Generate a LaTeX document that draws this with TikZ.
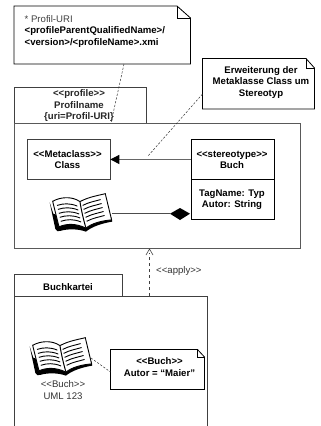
\documentclass[tikz,border=0pt]{standalone}
\usepackage{fontspec}
\setmainfont{Liberation Sans}
\usetikzlibrary{arrows.meta}
\tikzset{
  x=1pt,y=-1pt,
  boxed/.style={draw=black!75,line width=0.8pt,fill=white},
  lbl/.style={align=center,font=\fontsize{9.6}{11.5}\selectfont\bfseries,inner sep=0pt},
  plain/.style={align=center,font=\fontsize{9.6}{11.5}\selectfont,inner sep=0pt,text=black!80},
  notelink/.style={draw=black!80,line width=0.5pt,dash pattern=on 2.2pt off 1.6pt},
  bookpic/.pic={
    \begin{scope}[x=0.333pt,y=-0.345pt]
      % shadow
      \fill[black] (-1,27) -- (16,104) .. controls (19,111) and (24,112) .. (30,110) .. controls (55,103) and (85,104) .. (108,112) .. controls (125,98) and (155,88) .. (187,83) -- (184,70) -- (100,90) -- (10,60) -- cycle;
      % pages
      \filldraw[fill=white,draw=black,line width=0.9pt] (8,24) .. controls (30,12) and (65,8) .. (90,25)
        .. controls (115,12) and (140,8) .. (166,2) -- (185,78)
        .. controls (155,80) and (125,88) .. (108,102)
        .. controls (80,88) and (50,88) .. (27,98) -- cycle;
      \draw[black,line width=1pt] (90,25) .. controls (94,50) and (100,75) .. (108,102);
      \foreach \i in {0,1,2,3,4}{
        \draw[black,line width=0.9pt] (21+\i*2.8,36+\i*11.5) .. controls (40+\i*2.8,30+\i*11.5) and (60+\i*2.8,29+\i*11.5) .. (82+\i*2.8,38+\i*11.5);
        \draw[black,line width=0.9pt] (98+\i*3,36+\i*11.5) .. controls (118+\i*3,26+\i*11.5) and (135+\i*3,24+\i*11.5) .. (152+\i*3,19+\i*11.5);
      }
    \end{scope}
  },
}
\begin{document}
\begin{tikzpicture}
\useasboundingbox (0,0) rectangle (321,426);
% coordinates
\coordinate (n1a) at (124,64);
\coordinate (n1b) at (111,123);
\coordinate (n2a) at (202.5,94);
\coordinate (n2b) at (148,156);
% packages
\node[boxed,minimum width=132pt,minimum height=36pt,inner sep=0pt,anchor=north west] (ptab) at (14,87) {};
\node[lbl,text=black!85] (ptext) at (79,105.7) {<{}<profile>{}>\\Profilname\\\{uri=Profil-URI\}};
\node[boxed,draw=black!65,line width=1pt,minimum width=286pt,minimum height=125pt,inner sep=0pt,anchor=north west] (pmain) at (14,123) {};
\node[boxed,minimum width=108pt,minimum height=22pt,inner sep=0pt,anchor=north west] (btab) at (14,274) {};
\node[lbl] (btext) at (68,287) {Buchkartei};
\draw[boxed,fill=none] (14,426) coordinate (bl) -- (14,296) coordinate (bm) -- (207,296) coordinate (bn) -- (207,426) coordinate (br);
% notes
\coordinate (a1) at (14,6); \coordinate (a2) at (177,6); \coordinate (a3) at (190.5,18); \coordinate (a4) at (190.5,64); \coordinate (a5) at (14,64);
\draw[draw=black,line width=0.8pt,fill=white] (a1) -- (a2) -- (a3) -- (a4) -- (a5) -- cycle;
\draw[draw=black,line width=0.5pt] (a2) |- (a3);
\node[inner sep=0pt,align=left,anchor=north west,font=\fontsize{9.6}{11.5}\selectfont] (n1) at (24.5,15) {{\color{black!75}* Profil-URI}\\\textbf{<profileParentQualifiedName>/}\\\textbf{<version>/<profileName>.xmi}};
\coordinate (c1) at (202.5,58.5); \coordinate (c2) at (306,58.5); \coordinate (c3) at (314.5,68); \coordinate (c4) at (314.5,109); \coordinate (c5) at (202.5,109);
\draw[draw=black,line width=0.8pt,fill=white] (c1) -- (c2) -- (c3) -- (c4) -- (c5) -- cycle;
\draw[draw=black,line width=0.5pt] (c2) |- (c3);
\node[lbl] (n2) at (261,82.5) {Erweiterung der\\Metaklasse Class um\\Stereotyp};
\draw[notelink] (n1a) -- (n1b);
\draw[notelink] (n2a) -- (n2b);
% classes
\node[boxed,minimum width=83pt,minimum height=40.5pt,inner sep=0pt,anchor=north west] (cls) at (26.5,138.8) {};
\node[lbl] (clst) at (67.5,159.7) {<{}<Metaclass>{}>\\Class};
\node[boxed,draw=black,minimum width=83pt,minimum height=40.5pt,inner sep=0pt,anchor=north west] (st) at (190.5,138.8) {};
\node[lbl] (stt) at (232,159.7) {<{}<stereotype>{}>\\Buch};
\node[boxed,draw=black,minimum width=83pt,minimum height=40pt,inner sep=0pt,anchor=north west] (attr) at (190.5,179.3) {};
\node[lbl] (attrt) at (232,199.7) {TagName: Typ\\Autor: String};
% connectors
\draw[draw=black!60,line width=1pt,-{Triangle[length=9pt,width=9pt,black]}] (st.west) -- (cls.east);
\pic (book1) at (50,193) {bookpic};
\coordinate (b1r) at (112,213.7);
\coordinate (d1) at (170,213.7); \coordinate (d2) at (180,208); \coordinate (d3) at (190,213.7); \coordinate (d4) at (180,220);
\fill[black] (d1) -- (d2) -- (d3) -- (d4) -- cycle;
\draw[draw=black!70,line width=1pt] (b1r) -- (d1);
% apply
\coordinate (ap1) at (149.5,296);
\coordinate (ap2) at (149.5,253);
\coordinate (ap3) at (149.5,249);
\draw[draw=black!75,line width=0.6pt,dash pattern=on 3pt off 3pt] (ap1) -- (ap2);
\draw[draw=black!75,line width=0.6pt] (146,255) -- (ap3) -- (153,255);
\node[plain,anchor=west] (aplbl) at (156,271.5) {<{}<apply>{}>};
% instance
\pic (book2) at (30,337) {bookpic};
\node[plain] (bk) at (63,390) {<{}<Buch>{}>\\UML 123};
\coordinate (e1) at (110.5,349.5); \coordinate (e2) at (197.5,349.5); \coordinate (e3) at (204.5,357); \coordinate (e4) at (204.5,389.5); \coordinate (e5) at (110.5,389.5);
\draw[draw=black,line width=0.8pt,fill=white] (e1) -- (e2) -- (e3) -- (e4) -- (e5) -- cycle;
\draw[draw=black,line width=0.5pt] (e2) |- (e3);
\node[lbl] (n3) at (159.5,367) {<{}<Buch>{}>\\Autor = “Maier”};
\coordinate (b2r) at (91,358);
\draw[notelink] (b2r) -- (e1 |- 0,372);
\end{tikzpicture}
\end{document}
